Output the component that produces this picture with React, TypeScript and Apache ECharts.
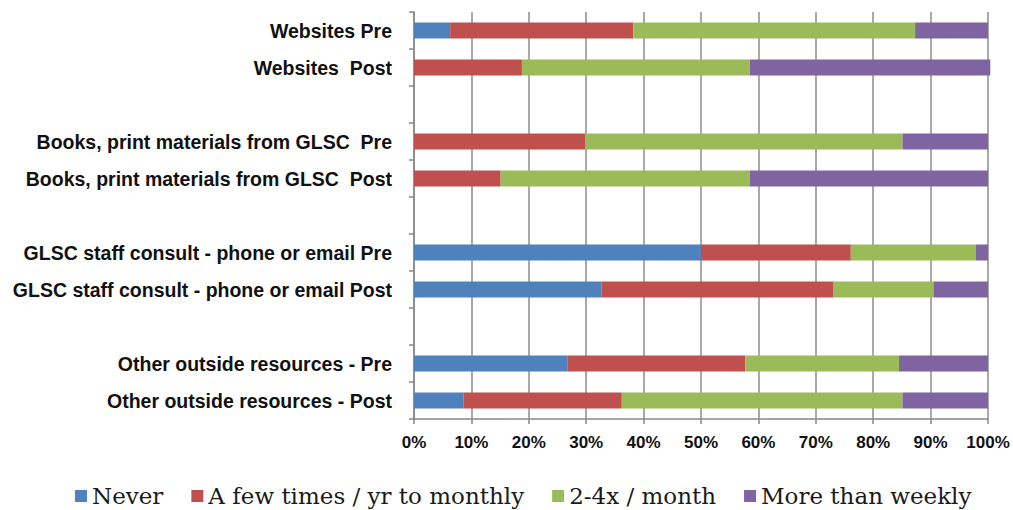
import React, { useEffect, useRef } from "react";
import * as echarts from "echarts";

const categories = [
  "Websites Pre",
  "Websites  Post",
  " ",
  "Books, print materials from GLSC  Pre",
  "Books, print materials from GLSC  Post",
  "  ",
  "GLSC staff consult - phone or email Pre",
  "GLSC staff consult - phone or email Post",
  "   ",
  "Other outside resources - Pre",
  "Other outside resources - Post",
];

const never = [6.3, 0, null, 0, 0, null, 50.0, 32.7, null, 26.7, 8.6];
const fewTimes = [31.9, 18.8, null, 29.8, 15.1, null, 26.1, 40.4, null, 31.0, 27.6];
const twoFour = [49.1, 39.7, null, 55.3, 43.4, null, 21.8, 17.4, null, 26.8, 48.9];
const weekly = [12.7, 41.9, null, 14.9, 41.5, null, 2.1, 9.5, null, 15.5, 14.9];

const seriesNames = ["Never", "A few times / yr to monthly", "2-4x / month", "More than weekly"];
const colors = ["#4F81BD", "#C0504D", "#9BBB59", "#8064A2"];

export default function App() {
  const ref = useRef<HTMLDivElement>(null);
  useEffect(() => {
    const chart = echarts.init(ref.current!, null, { renderer: "svg" });
    const values = [never, fewTimes, twoFour, weekly];
    chart.setOption({
      animation: false,
      color: colors,
      grid: { left: 414, right: 25, top: 12, bottom: 91, containLabel: false },
      legend: {
        top: 484,
        left: 75,
        padding: 0,
        itemWidth: 12,
        itemHeight: 12,
        itemGap: 28,
        icon: "rect",
        textStyle: { fontFamily: "DejaVu Serif", fontSize: 23, lineHeight: 24, color: "#1a1a1a" },
        data: seriesNames,
      },
      xAxis: {
        type: "value",
        min: 0,
        max: 100,
        interval: 10,
        axisLine: { show: true, lineStyle: { color: "#888", width: 1.5 } },
        axisTick: { show: true, length: 5, lineStyle: { color: "#888", width: 1.5 } },
        splitLine: { show: true, lineStyle: { color: "#8c8c8c", width: 1.5 } },
        axisLabel: {
          formatter: "{value}%",
          fontFamily: "Liberation Sans",
          fontWeight: "bold",
          fontSize: 17,
          color: "#111",
          margin: 15,
        },
      },
      yAxis: {
        type: "category",
        inverse: true,
        data: categories,
        axisLine: { show: true, lineStyle: { color: "#888", width: 1.5 } },
        axisTick: { show: true, length: 5, lineStyle: { color: "#888", width: 1.5 } },
        axisLabel: {
          fontFamily: "Liberation Sans",
          fontWeight: "bold",
          fontSize: 19.5,
          color: "#111",
          margin: 22,
        },
      },
      series: values.map((v, i) => ({
        name: seriesNames[i],
        type: "bar",
        stack: "total",
        barWidth: 16,
        clip: false,
        data: v,
        itemStyle: { color: colors[i] },
      })),
    });
    return () => chart.dispose();
  }, []);
  return <div ref={ref} style={{ width: 1013, height: 510, position: "absolute", left: 0, top: 0 }} />;
}
